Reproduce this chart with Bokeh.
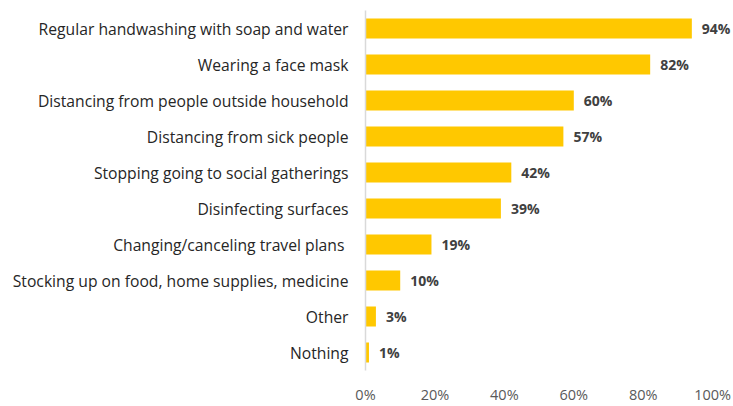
from bokeh.plotting import figure
from bokeh.models import ColumnDataSource, FactorRange, Range1d, LabelSet
from bokeh.core.properties import value
from bokeh.embed import file_html
from bokeh.resources import INLINE

categories = [
    "Regular handwashing with soap and water",
    "Wearing a face mask",
    "Distancing from people outside household",
    "Distancing from sick people",
    "Stopping going to social gatherings",
    "Disinfecting surfaces",
    "Changing/canceling travel plans ",
    "Stocking up on food, home supplies, medicine",
    "Other",
    "Nothing",
]
values = [94, 82, 60, 57, 42, 39, 19, 10, 3, 1]
labels = [f"{v}%" for v in values]
ticks = [0, 20, 40, 60, 80, 100]

src = ColumnDataSource(dict(cat=categories, val=values, lab=labels))

p = figure(
    width=733, height=406,
    y_range=FactorRange(*reversed(categories)),
    x_range=Range1d(0, 106),
    output_backend="svg", toolbar_location=None,
    min_border_left=365, min_border_right=0,
    min_border_top=10, min_border_bottom=33,
)
p.outline_line_color = None
p.xgrid.grid_line_color = None
p.ygrid.grid_line_color = None
p.y_range.range_padding = 0

p.hbar(y="cat", right="val", left=0, height=0.55, source=src,
       fill_color="#FFC800", line_color=None)

lbl = LabelSet(x="val", y="cat", text="lab", source=src, x_offset=10,
               text_align="left", text_baseline="middle",
               text_font=value("Open Sans"), text_font_style="bold",
               text_font_size="14px", text_color="#404040")
p.add_layout(lbl)

# y axis
p.yaxis.axis_line_color = "#d9d9d9"
p.yaxis.axis_line_width = 1.5
p.yaxis.major_tick_line_color = None
p.yaxis.minor_tick_line_color = None
p.yaxis.major_tick_out = 0
p.yaxis.major_label_standoff = 17
p.yaxis.major_label_text_font = "Open Sans"
p.yaxis.major_label_text_font_size = "15.7px"
p.yaxis.major_label_text_color = "#262626"

# x axis
p.xaxis.axis_line_color = None
p.xaxis.major_tick_line_color = None
p.xaxis.minor_tick_line_color = None
p.xaxis.major_tick_out = 0
p.xaxis.major_label_standoff = 14
p.xaxis.ticker = ticks
p.xaxis.major_label_overrides = {t: f"{t}%" for t in ticks}
p.xaxis.major_label_text_font = "Open Sans"
p.xaxis.major_label_text_font_size = "14.5px"
p.xaxis.major_label_text_color = "#595959"

open("out.html", "w").write(file_html(p, INLINE))
